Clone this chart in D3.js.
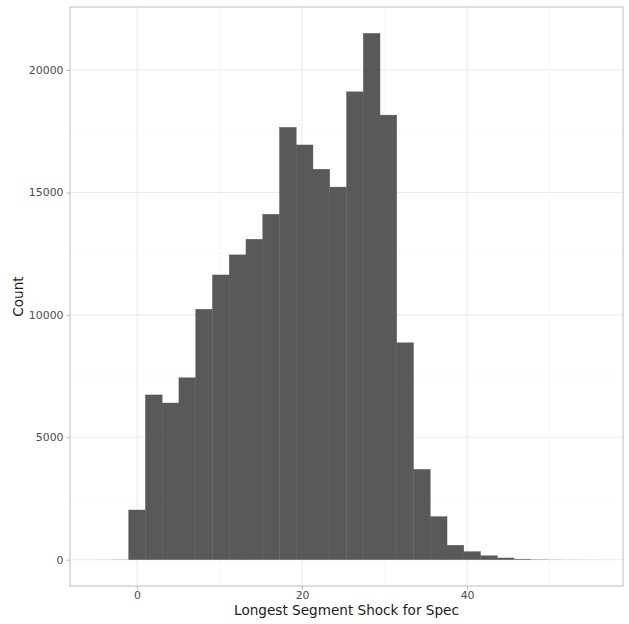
<!DOCTYPE html>
<html>
<head>
<meta charset="utf-8">
<script src="https://cdn.jsdelivr.net/npm/d3@7"></script>
<style>
  html, body { margin: 0; padding: 0; background: #ffffff; }
  svg { display: block; }
</style>
</head>
<body>
<div id="chart"></div>
<script>
// Histogram of the longest segment shock per spec (30 equal-width bins)
const binStart = -5.078;   // left edge of the first bin
const binWidth = 2.031;
const counts = [
  2, 5, 2030, 6730, 6400, 7430, 10230, 11630, 12450, 13090,
  14110, 17660, 16940, 15950, 15220, 19110, 21500, 18160, 8860, 3690,
  1760, 590, 330, 160, 70, 30, 12, 6, 3, 1
];
const xTicks = [0, 20, 40];
const xMinorTicks = [10, 30, 50];
const yTicks = [0, 5000, 10000, 15000, 20000];
const yMinorTicks = [2500, 7500, 12500, 17500];
const xTitle = "Longest Segment Shock for Spec";
const yTitle = "Count";

const W = 629, H = 624;
const panel = { left: 70, right: 623, top: 7, bottom: 586 };

const bins = counts.map((c, i) => ({
  x0: binStart + i * binWidth,
  x1: binStart + (i + 1) * binWidth,
  count: c
}));

// 5% expansion on both axes
const xLo = bins[0].x0, xHi = bins[bins.length - 1].x1;
const xPad = (xHi - xLo) * 0.05;
const x = d3.scaleLinear()
  .domain([xLo - xPad, xHi + xPad])
  .range([panel.left, panel.right]);

const yMax = d3.max(counts);
const y = d3.scaleLinear()
  .domain([-yMax * 0.05, yMax * 1.05])
  .range([panel.bottom, panel.top]);

const svg = d3.select("#chart").append("svg")
  .attr("width", W).attr("height", H)
  .style("font-family", "'DejaVu Sans', sans-serif");

// grid: minor then major
const grid = svg.append("g");
grid.selectAll(".vminor").data(xMinorTicks).join("line")
  .attr("x1", d => x(d)).attr("x2", d => x(d))
  .attr("y1", panel.top).attr("y2", panel.bottom)
  .attr("stroke", "#f3f3f3").attr("stroke-width", 0.6);
grid.selectAll(".hminor").data(yMinorTicks).join("line")
  .attr("x1", panel.left).attr("x2", panel.right)
  .attr("y1", d => y(d)).attr("y2", d => y(d))
  .attr("stroke", "#f3f3f3").attr("stroke-width", 0.6);
grid.selectAll(".vmajor").data(xTicks).join("line")
  .attr("x1", d => x(d)).attr("x2", d => x(d))
  .attr("y1", panel.top).attr("y2", panel.bottom)
  .attr("stroke", "#ebebeb").attr("stroke-width", 1.1);
grid.selectAll(".hmajor").data(yTicks).join("line")
  .attr("x1", panel.left).attr("x2", panel.right)
  .attr("y1", d => y(d)).attr("y2", d => y(d))
  .attr("stroke", "#ebebeb").attr("stroke-width", 1.1);

// bars (hairline outline in the fill colour keeps seams faint)
svg.append("g").selectAll("rect").data(bins).join("rect")
  .attr("x", d => x(d.x0))
  .attr("width", d => x(d.x1) - x(d.x0))
  .attr("y", d => y(d.count))
  .attr("height", d => y(0) - y(d.count))
  .attr("fill", "#595959")
  .attr("stroke", d => (y(0) - y(d.count)) > 1 ? "#595959" : "none")
  .attr("stroke-width", 0.35);

// panel border
svg.append("rect")
  .attr("x", panel.left).attr("y", panel.top)
  .attr("width", panel.right - panel.left)
  .attr("height", panel.bottom - panel.top)
  .attr("fill", "none").attr("stroke", "#c4c4c4").attr("stroke-width", 1.1);

// axes
const fmt = d3.format("d");
const xAxis = d3.axisBottom(x).tickValues(xTicks).tickFormat(fmt).tickSize(3.5).tickPadding(2);
const yAxis = d3.axisLeft(y).tickValues(yTicks).tickFormat(fmt).tickSize(3.5).tickPadding(3);

const gx = svg.append("g")
  .attr("transform", `translate(0,${panel.bottom})`)
  .call(xAxis);
const gy = svg.append("g")
  .attr("transform", `translate(${panel.left},0)`)
  .call(yAxis);

[gx, gy].forEach(g => {
  g.select(".domain").remove();
  g.selectAll(".tick line").attr("stroke", "#b8b8b8").attr("stroke-width", 1);
  g.selectAll(".tick text")
    .attr("fill", "#4d4d4d")
    .style("font-size", "10.9px")
    .style("font-family", "'DejaVu Sans', sans-serif");
});

// axis titles
svg.append("text")
  .attr("x", (panel.left + panel.right) / 2)
  .attr("y", 614.5)
  .attr("text-anchor", "middle")
  .attr("fill", "#1a1a1a")
  .style("font-size", "13.6px")
  .text(xTitle);

svg.append("text")
  .attr("transform", `translate(23,${(panel.top + panel.bottom) / 2}) rotate(-90)`)
  .attr("text-anchor", "middle")
  .attr("fill", "#1a1a1a")
  .style("font-size", "13.6px")
  .text(yTitle);
</script>
</body>
</html>
